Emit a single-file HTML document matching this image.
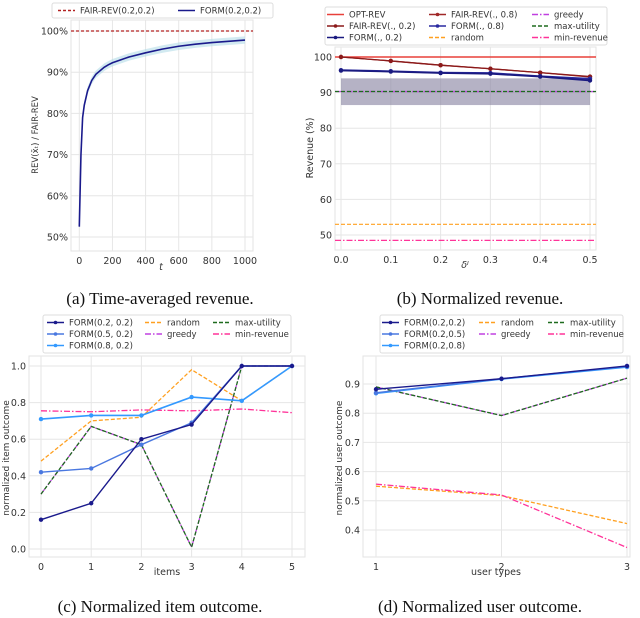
<!DOCTYPE html>
<html><head><meta charset="utf-8"><style>
body{margin:0;background:#fff;width:640px;height:618px;overflow:hidden}
svg{display:block}
text{font-family:"DejaVu Sans","Liberation Sans",sans-serif;fill:#333}
.cap{font-family:"Liberation Serif",serif;font-size:17px;fill:#111}
</style></head><body>
<svg id="s" width="640" height="618" xmlns="http://www.w3.org/2000/svg"></svg>
<script>
// ---- data panel a
const aT=[0,10,20,30,50,75,100,150,175,200,300,400,500,600,700,800,900,1000];
const aV=[52.5,70,79,82,85.5,88,89.5,91.2,91.8,92.3,93.7,94.7,95.6,96.3,96.8,97.2,97.5,97.8];
const aTicksX=[0,200,400,600,800,1000];
const aTicksY=[50,60,70,80,90,100];
// ---- data panel b
const bX=[0,0.1,0.2,0.3,0.4,0.5];
const bFair2=[100,98.9,97.7,96.7,95.6,94.5];
const bFair8=[100,98.9,97.7,96.7,95.6,94.4];
const bForm2=[96.2,95.9,95.5,95.3,94.5,93.4];
const bForm8=[96.3,96.0,95.6,95.5,94.6,93.9];
const bOpt=100,bMaxU=90.3,bGreedy=90.3,bRandom=53,bMinRev=48.5,bBandLo=86.5,bBandHi=94;
const bTicksY=[50,60,70,80,90,100];
const bTicksX=[0,0.1,0.2,0.3,0.4,0.5];
// ---- data panel c
const cX=[0,1,2,3,4,5];
const cF22=[0.16,0.25,0.60,0.68,1.0,1.0];
const cF52=[0.42,0.44,0.57,0.69,1.0,1.0];
const cF82=[0.71,0.73,0.73,0.83,0.81,1.0];
const cRandom=[0.48,0.70,0.72,0.98,0.81,1.0];
const cGreedy=[0.30,0.67,0.57,0.01,1.0,1.0];
const cMaxU=[0.30,0.67,0.57,0.01,1.0,1.0];
const cMinRev=[0.755,0.75,0.76,0.755,0.765,0.745];
const cTicksY=[0,0.2,0.4,0.6,0.8,1.0];
// ---- data panel d
const dX=[1,2,3];
const dF22=[0.882,0.918,0.962];
const dF25=[0.870,0.918,0.960];
const dF28=[0.868,0.917,0.958];
const dRandom=[0.55,0.518,0.422];
const dGreedy=[0.89,0.792,0.92];
const dMaxU=[0.89,0.792,0.92];
const dMinRev=[0.557,0.52,0.34];
const dTicksY=[0.4,0.5,0.6,0.7,0.8,0.9];

const S=document.getElementById('s');const NS='http://www.w3.org/2000/svg';
function el(t,a,p){const e=document.createElementNS(NS,t);for(const k in a)e.setAttribute(k,a[k]);(p||S).appendChild(e);return e;}
function lin(d0,d1,r0,r1){return v=>r0+(v-d0)*(r1-r0)/(d1-d0);}
function axes(name,x0,y0,x1,y1,xs,ys,xt,yt,xf,yf){
  const g=el('g',{});
  
  
  el('rect',{x:x0,y:y0,width:x1-x0,height:y1-y0,fill:'#fff',stroke:'#e3e3e3','stroke-width':1},g);
  xt.forEach(v=>{const x=xs(v);el('line',{x1:x,x2:x,y1:y0,y2:y1,stroke:'#e6e6e6'},g);
    const t=el('text',{x:x,y:y1+13,'text-anchor':'middle','font-size':9.5},g);t.textContent=xf(v);
    });
  yt.forEach(v=>{const y=ys(v);el('line',{x1:x0,x2:x1,y1:y,y2:y,stroke:'#e6e6e6'},g);
    const t=el('text',{x:x0-3,y:y+3.5,'text-anchor':'end','font-size':9.5},g);t.textContent=yf(v);
    });
  return g;
}
function line(name,xs,ys,X,Y,st){
  const d=X.map((x,i)=>(i?'L':'M')+xs(x)+' '+ys(Y[i])).join(' ');
  const p=el('path',{d:d,fill:'none',stroke:st.c,'stroke-width':st.w||1.3,'stroke-dasharray':st.da||'none'});
  
  if(st.m)X.forEach((x,i)=>{el('circle',{cx:xs(x),cy:ys(Y[i]),r:2.2,fill:st.c});});
  return p;
}
function hline(name,x0,x1,y,st){const p=el('line',{x1:x0,x2:x1,y1:y,y2:y,stroke:st.c,'stroke-width':st.w||1.2,'stroke-dasharray':st.da||'none'});
  }
function txt(name,x,y,s,a){const t=el('text',Object.assign({x:x,y:y,'font-size':9.5},a||{}));t.textContent=s;
  return t;}
// cols: array of arrays of items
function legend(name,x,y,w,h,cols,colXs,fs){
  const g=el('g',{});
  el('rect',{x:x,y:y,width:w,height:h,fill:'#fff',stroke:'#ddd',rx:2},g);
  cols.forEach((col,c)=>col.forEach((it,r)=>{const lx=colXs[c],ly=y+7.5+r*11.5;
    el('line',{x1:lx,x2:lx+17,y1:ly,y2:ly,stroke:it.c,'stroke-width':it.w||1.5,'stroke-dasharray':it.da||'none'},g);
    if(it.m)el('circle',{cx:lx+8.5,cy:ly,r:1.8,fill:it.c},g);
    const t=el('text',{x:lx+22,y:ly+3,'font-size':fs||8.5},g);t.textContent=it.t;
    }));
}
const DASH='4 2',DD='6 2 1.5 2';
// ===== Panel a
{const xs=lin(0,1000,79.3,245),ys=lin(50,100,237,31);
axes('panel-a-axes',71,20,253,251,xs,ys,aTicksX,aTicksY,v=>v,v=>v+'%');
const up=aT.map((t,i)=>xs(t)+','+ys(Math.min(aV[i]+0.9,100))),lo=aT.map((t,i)=>xs(t)+','+ys(aV[i]-0.9)).reverse();
const b=el('polygon',{points:up.concat(lo).join(' '),fill:'#add8e6','fill-opacity':0.55});

hline('fair-rev-line',71,253,ys(100),{c:'#b22222',da:'3 2'});
line('form-line',xs,ys,aT,aV,{c:'#1a1a8c',w:1.6});
txt('y-axis-title',38,135,'REV(x̄ₜ) / FAIR-REV',{'font-size':8.5,transform:'rotate(-90 38 135)','text-anchor':'middle'});
txt('x-axis-title',161,270,'t',{'font-style':'italic','text-anchor':'middle'});
legend('legend-a',52,3,221,15,[[{t:'FAIR-REV(0.2,0.2)',c:'#b22222',da:'3 2'}],[{t:'FORM(0.2,0.2)',c:'#1a1a8c'}]],[58,178],8.5);
txt('caption-a',160,304,'(a) Time-averaged revenue.',{'class':'cap','text-anchor':'middle'});}
// ===== Panel b
{const xs=lin(0,0.5,341,590),ys=lin(50,100,235,57);
axes('panel-b-axes',335,47,596,250,xs,ys,bTicksX,bTicksY,v=>v.toFixed(1),v=>v);
const r=el('rect',{x:xs(0),y:ys(bBandHi),width:xs(0.5)-xs(0),height:ys(bBandLo)-ys(bBandHi),fill:'#8e88a6','fill-opacity':0.65});

hline('opt-rev-line',335,596,ys(bOpt),{c:'#e8403a',w:1.4});
hline('greedy-line',335,596,ys(bGreedy),{c:'#c040e0',da:DD});
hline('max-utility-line',335,596,ys(bMaxU),{c:'#1e6b1e',da:DASH});
hline('random-line',335,596,ys(bRandom),{c:'#ffa020',da:DASH});
hline('min-revenue-line',335,596,ys(bMinRev),{c:'#ff3399',da:DD});
line('fair-rev-08',xs,ys,bX,bFair8,{c:'#a02828',m:1});
line('fair-rev-02',xs,ys,bX,bFair2,{c:'#8b1a1a',m:1});
line('form-08',xs,ys,bX,bForm8,{c:'#2a2aa0',m:1,w:1.8});
line('form-02',xs,ys,bX,bForm2,{c:'#1a1a80',m:1,w:1.8});
txt('y-axis-title',313,148,'Revenue (%)',{'font-size':9.5,transform:'rotate(-90 313 148)','text-anchor':'middle'});
txt('x-axis-title',465,268,'δᴵ',{'font-style':'italic','text-anchor':'middle'});
legend('legend-b',325,7,282,38,[[{t:'OPT-REV',c:'#e8403a'},{t:'FAIR-REV(., 0.2)',c:'#8b1a1a',m:1},{t:'FORM(., 0.2)',c:'#1a1a80',m:1}],
 [{t:'FAIR-REV(., 0.8)',c:'#a02828',m:1},{t:'FORM(., 0.8)',c:'#2a2aa0',m:1},{t:'random',c:'#ffa020',da:DASH}],
 [{t:'greedy',c:'#c040e0',da:DD},{t:'max-utility',c:'#1e6b1e',da:DASH},{t:'min-revenue',c:'#ff3399',da:DD}]],[327,429,532],8.5);
txt('caption-b',480,304,'(b) Normalized revenue.',{'class':'cap','text-anchor':'middle'});}
// ===== Panel c
{const xs=lin(0,5,41,292),ys=lin(0,1,549,366);
axes('panel-c-axes',29,356,305,557,xs,ys,cX,cTicksY,v=>v,v=>v.toFixed(1));
line('min-revenue-line',xs,ys,cX,cMinRev,{c:'#ff3399',da:DD});
line('random-line',xs,ys,cX,cRandom,{c:'#ffa020',da:DASH});
line('greedy-line',xs,ys,cX,cGreedy,{c:'#c040e0',da:DD});
line('max-utility-line',xs,ys,cX,cMaxU,{c:'#1e6b1e',da:DASH});
line('form-08-02',xs,ys,cX,cF82,{c:'#3399ff',m:1,w:1.6});
line('form-05-02',xs,ys,cX,cF52,{c:'#4a78e0',m:1,w:1.4});
line('form-02-02',xs,ys,cX,cF22,{c:'#1a1a8c',m:1,w:1.4});
txt('y-axis-title',9,458,'normalized item outcome',{'font-size':9,transform:'rotate(-90 9 458)','text-anchor':'middle'});
txt('x-axis-title',167,575,'items',{'text-anchor':'middle'});
legend('legend-c',43,315,248,38,[[{t:'FORM(0.2, 0.2)',c:'#1a1a8c',m:1},{t:'FORM(0.5, 0.2)',c:'#4a78e0',m:1},{t:'FORM(0.8, 0.2)',c:'#3399ff',m:1}],
 [{t:'random',c:'#ffa020',da:DASH},{t:'greedy',c:'#c040e0',da:DD}],[{t:'max-utility',c:'#1e6b1e',da:DASH},{t:'min-revenue',c:'#ff3399',da:DD}]],[47,145,213],8.5);
txt('caption-c',160,612,'(c) Normalized item outcome.',{'class':'cap','text-anchor':'middle'});}
// ===== Panel d
{const xs=lin(1,3,376,627),ys=lin(0.4,0.9,530,384);
axes('panel-d-axes',363,356,630,557,xs,ys,dX,dTicksY,v=>v,v=>v.toFixed(1));
line('random-line',xs,ys,dX,dRandom,{c:'#ffa020',da:DASH});
line('min-revenue-line',xs,ys,dX,dMinRev,{c:'#ff3399',da:DD});
line('greedy-line',xs,ys,dX,dGreedy,{c:'#c040e0',da:DD});
line('max-utility-line',xs,ys,dX,dMaxU,{c:'#1e6b1e',da:DASH});
line('form-02-08',xs,ys,dX,dF28,{c:'#3399ff',m:1,w:1.6});
line('form-02-05',xs,ys,dX,dF25,{c:'#4a78e0',m:1,w:1.4});
line('form-02-02',xs,ys,dX,dF22,{c:'#1a1a8c',m:1,w:1.4});
txt('y-axis-title',342,458,'normalized user outcome',{'font-size':9,transform:'rotate(-90 342 458)','text-anchor':'middle'});
txt('x-axis-title',496,575,'user types',{'text-anchor':'middle'});
legend('legend-d',380,315,243,38,[[{t:'FORM(0.2,0.2)',c:'#1a1a8c',m:1},{t:'FORM(0.2,0.5)',c:'#4a78e0',m:1},{t:'FORM(0.2,0.8)',c:'#3399ff',m:1}],
 [{t:'random',c:'#ffa020',da:DASH},{t:'greedy',c:'#c040e0',da:DD}],[{t:'max-utility',c:'#1e6b1e',da:DASH},{t:'min-revenue',c:'#ff3399',da:DD}]],[382,479,548],8.5);
txt('caption-d',480,612,'(d) Normalized user outcome.',{'class':'cap','text-anchor':'middle'});}
</script>
</body></html>
